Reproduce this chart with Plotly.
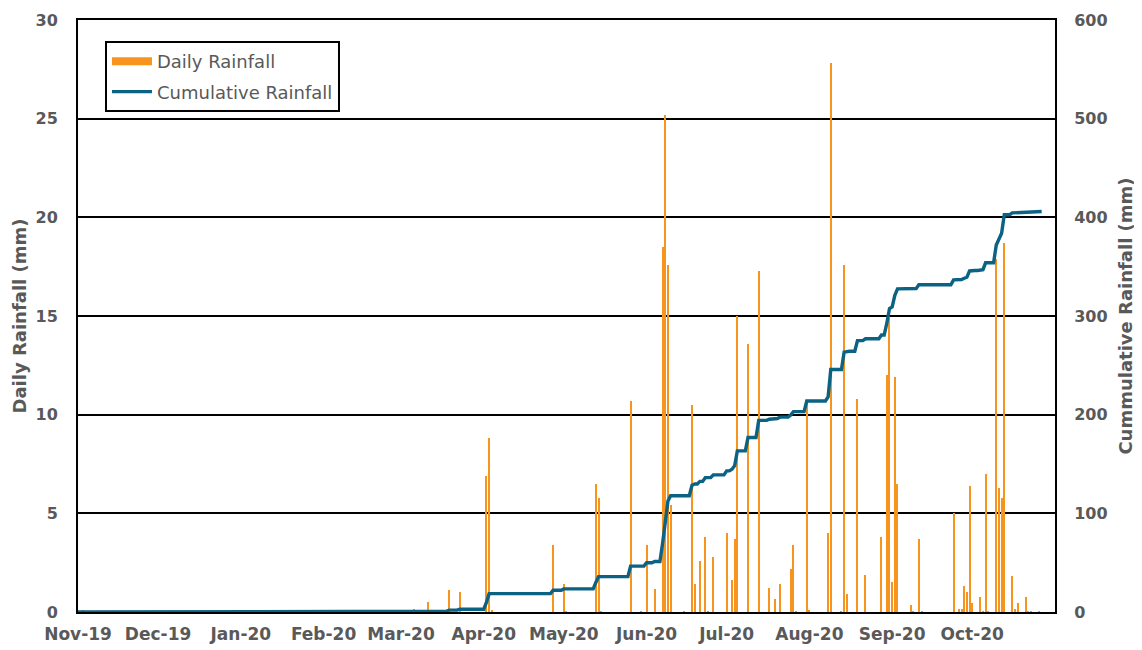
import numpy as np
import pandas as pd
import plotly.graph_objects as go

# ---- data ----
rain_dates = [
    "2019-11-03", "2020-03-06", "2020-03-11", "2020-03-19", "2020-03-23",
    "2020-04-02", "2020-04-03", "2020-04-04", "2020-04-27", "2020-05-01",
    "2020-05-02", "2020-05-13", "2020-05-14", "2020-05-15", "2020-05-26",
    "2020-05-30", "2020-06-01", "2020-06-04", "2020-06-07", "2020-06-08",
    "2020-06-09", "2020-06-10", "2020-06-15", "2020-06-18", "2020-06-19",
    "2020-06-21", "2020-06-23", "2020-06-24", "2020-06-26", "2020-07-01",
    "2020-07-03", "2020-07-04", "2020-07-05", "2020-07-09", "2020-07-13",
    "2020-07-17", "2020-07-19", "2020-07-21", "2020-07-25", "2020-07-26",
    "2020-07-27", "2020-07-31", "2020-08-01", "2020-08-08", "2020-08-09",
    "2020-08-13", "2020-08-14", "2020-08-15", "2020-08-19", "2020-08-22",
    "2020-08-28", "2020-08-30", "2020-08-31", "2020-09-01", "2020-09-02",
    "2020-09-03", "2020-09-08", "2020-09-09", "2020-09-11", "2020-09-12",
    "2020-09-24", "2020-09-26", "2020-09-27", "2020-09-28", "2020-09-29",
    "2020-09-30", "2020-10-01", "2020-10-04", "2020-10-05", "2020-10-06",
    "2020-10-07", "2020-10-10", "2020-10-11", "2020-10-12", "2020-10-13",
    "2020-10-16", "2020-10-17", "2020-10-18", "2020-10-21", "2020-10-22",
    "2020-10-23", "2020-10-26",
]
rain_mm = [
    0.1, 0.15, 0.5, 1.1, 1.0,
    6.9, 8.8, 0.07, 3.4, 1.4,
    0.05, 6.5, 5.8, 0.05, 10.7,
    0.05, 3.4, 1.15, 18.5, 25.2,
    17.6, 5.4, 0.05, 10.5, 1.4,
    2.6, 3.8, 0.05, 2.8, 4.0,
    1.6, 3.7, 15.0, 13.6, 17.3,
    1.2, 0.65, 1.4, 2.2, 3.4,
    0.05, 10.7, 0.1, 4.0, 27.8,
    0.05, 17.6, 0.9, 10.8, 1.85,
    3.8, 12.0, 14.9, 1.5, 11.9,
    6.5, 0.35, 0.05, 3.7, 0.05,
    5.0, 0.15, 0.15, 1.3, 1.0,
    6.4, 0.45, 0.75, 0.05, 7.0,
    0.05, 17.9, 6.3, 5.8, 18.7,
    1.8, 0.15, 0.45, 0.75, 0.05,
    0.05, 0.05,
]
record_start = "2019-11-01"
record_end = "2020-10-27"

tick_dates = ["2019-11-01", "2019-12-01", "2020-01-01", "2020-02-01", "2020-03-01",
              "2020-04-01", "2020-05-01", "2020-06-01", "2020-07-01", "2020-08-01",
              "2020-09-01", "2020-10-01"]
tick_labels = ["Nov-19", "Dec-19", "Jan-20", "Feb-20", "Mar-20", "Apr-20",
               "May-20", "Jun-20", "Jul-20", "Aug-20", "Sep-20", "Oct-20"]

# ---- build daily series ----
days = pd.date_range(record_start, record_end, freq="D")
daily = pd.Series(0.0, index=days)
daily.loc[pd.to_datetime(rain_dates)] = rain_mm
cumulative = daily.cumsum()

ORANGE = "#F7941D"
TEAL = "#0B6283"
GREY = "#595959"
FONT = "DejaVu Sans"

fig = go.Figure()
fig.add_trace(go.Bar(
    x=daily.index, y=daily.values, marker=dict(color=ORANGE, line=dict(width=0)),
    width=0.4 * 86400000, showlegend=False, name="Daily Rainfall",
))
# legend entry drawn as a wide orange bar
fig.add_trace(go.Scatter(
    x=[None], y=[None], mode="lines", line=dict(color=ORANGE, width=8),
    name="Daily Rainfall", legendgroup="a",
))
fig.add_trace(go.Scatter(
    x=cumulative.index, y=cumulative.values, mode="lines", yaxis="y2",
    line=dict(color=TEAL, width=3.4), name="Cumulative Rainfall", legendgroup="b",
))

# the page body adds an 8px offset, so the figure is sized to fit the window
fig.update_layout(
    width=1134, height=642,
    margin=dict(l=70, r=87, t=12, b=38, autoexpand=False),
    paper_bgcolor="white", plot_bgcolor="white",
    font=dict(family=FONT, color=GREY),
    bargap=0,
    xaxis=dict(
        type="date", range=["2019-11-01", "2020-11-01"],
        tickvals=tick_dates, ticktext=tick_labels, automargin=False,
        tickfont=dict(size=17, color=GREY, family=FONT, weight="bold"),
        showgrid=False, showline=True, linecolor="black", linewidth=2, mirror=True,
        ticks="", zeroline=False, ticklabelstandoff=6,
    ),
    yaxis=dict(
        range=[0, 30], dtick=5, tick0=0, automargin=False,
        showgrid=True, gridcolor="black", gridwidth=2,
        showline=True, linecolor="black", linewidth=2,
        ticks="", zeroline=False, ticklabelstandoff=15,
        tickfont=dict(size=16, color=GREY, family=FONT, weight="bold"),
        title=dict(text="Daily Rainfall (mm)", standoff=4,
                   font=dict(size=18, color=GREY, family=FONT, weight="bold")),
    ),
    yaxis2=dict(
        range=[0, 600], dtick=100, tick0=0, overlaying="y", side="right",
        automargin=False,
        showgrid=False, showline=True, linecolor="black", linewidth=2,
        ticks="", zeroline=False, ticklabelstandoff=14,
        tickfont=dict(size=16, color=GREY, family=FONT, weight="bold"),
        title=dict(text="Cummulative Rainfall (mm)", standoff=13,
                   font=dict(size=18, color=GREY, family=FONT, weight="bold")),
    ),
    legend=dict(
        x=0.0276, y=0.9645, xanchor="left", yanchor="top",
        bgcolor="white", bordercolor="black", borderwidth=2,
        font=dict(size=18, color=GREY, family=FONT),
        traceorder="grouped", tracegroupgap=4, itemwidth=40,
    ),
)

fig.write_html("out.html")
